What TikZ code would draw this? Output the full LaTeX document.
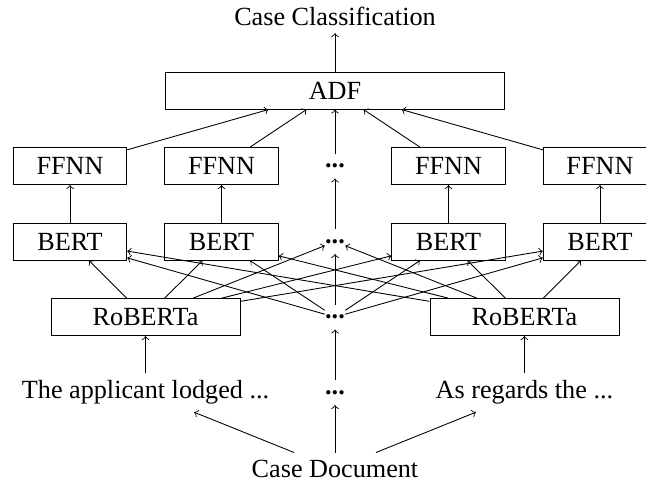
\documentclass[tikz,border=0pt]{standalone}
\usepackage{fontspec}
\setmainfont{Liberation Serif}
\usetikzlibrary{positioning}

\begin{document}
\begin{tikzpicture}[
        node distance=34.6pt and 52pt, on grid,
        every node/.style={font=\large},
        block/.style={rectangle, draw, minimum width=52pt, minimum height=17pt, inner sep=0pt},
        widebox/.style={block, minimum width=155.7pt},
        encoder/.style={block, minimum width=86.6pt},
        gap/.style={minimum height=11pt, inner sep=0pt, font=\large\bfseries},
        edge/.style={->}
    ]
        \useasboundingbox (-153.5pt,41.5pt) rectangle (142.5pt,-178.9pt);
        % Output layer
        \node[widebox] (adf) {ADF};
        \node[above=34.1pt of adf] (cls) {Case Classification};
        % FFNN layer
        \node[gap, below=of adf] (ffdots) {...};
        \node[block, left=of ffdots] (ff2) {FFNN};
        \node[block, left=69.4pt of ff2] (ff1) {FFNN};
        \node[block, right=of ffdots] (ff3) {FFNN};
        \node[block, right=69.4pt of ff3] (ff4) {FFNN};
        % BERT layer
        \node[gap, below=of ffdots] (bertdots) {...};
        \node[block, below=of ff1] (bert1) {BERT};
        \node[block, below=of ff2] (bert2) {BERT};
        \node[block, below=of ff3] (bert3) {BERT};
        \node[block, below=of ff4] (bert4) {BERT};
        % RoBERTa layer
        \node[gap, below=of bertdots] (robdots) {...};
        \node[encoder, left=86.8pt of robdots] (rob1) {RoBERTa};
        \node[encoder, right=86.8pt of robdots] (rob2) {RoBERTa};
        % Paragraphs
        \node[gap, below=of robdots] (txtdots) {...};
        \node[below=of rob1] (txt1) {The applicant lodged ...};
        \node[below=of rob2] (txt2) {As regards the ...};
        \node[below=35pt of txtdots] (doc) {Case Document};
        % Edges: document to paragraphs
        \draw[edge] (doc) -- (txt1);
        \draw[edge] (doc) -- (txtdots);
        \draw[edge] (doc) -- (txt2);
        % Edges: paragraphs to RoBERTa
        \draw[edge] (txt1) -- (rob1);
        \draw[edge] (txtdots) -- (robdots);
        \draw[edge] (txt2) -- (rob2);
        % Edges: RoBERTa to BERT
        \draw[edge] (rob1) -- (bert1);
        \draw[edge] (rob1) -- (bert2);
        \draw[edge] (rob1) -- (bertdots);
        \draw[edge] (rob1) -- (bert3);
        \draw[edge] (rob1) -- (bert4);
        \draw[edge] (robdots) -- (bert1);
        \draw[edge] (robdots) -- (bert2);
        \draw[edge] (robdots) -- (bertdots);
        \draw[edge] (robdots) -- (bert3);
        \draw[edge] (robdots) -- (bert4);
        \draw[edge] (rob2) -- (bert1);
        \draw[edge] (rob2) -- (bert2);
        \draw[edge] (rob2) -- (bertdots);
        \draw[edge] (rob2) -- (bert3);
        \draw[edge] (rob2) -- (bert4);
        % Edges: BERT to FFNN
        \draw[edge] (bert1) -- (ff1);
        \draw[edge] (bert2) -- (ff2);
        \draw[edge] (bertdots) -- (ffdots);
        \draw[edge] (bert3) -- (ff3);
        \draw[edge] (bert4) -- (ff4);
        % Edges: FFNN to ADF
        \draw[edge] (ff1) -- (adf);
        \draw[edge] (ff2) -- (adf);
        \draw[edge] (ffdots) -- (adf);
        \draw[edge] (ff3) -- (adf);
        \draw[edge] (ff4) -- (adf);
        \draw[edge] (adf) -- (cls);
    \end{tikzpicture}
\end{document}
